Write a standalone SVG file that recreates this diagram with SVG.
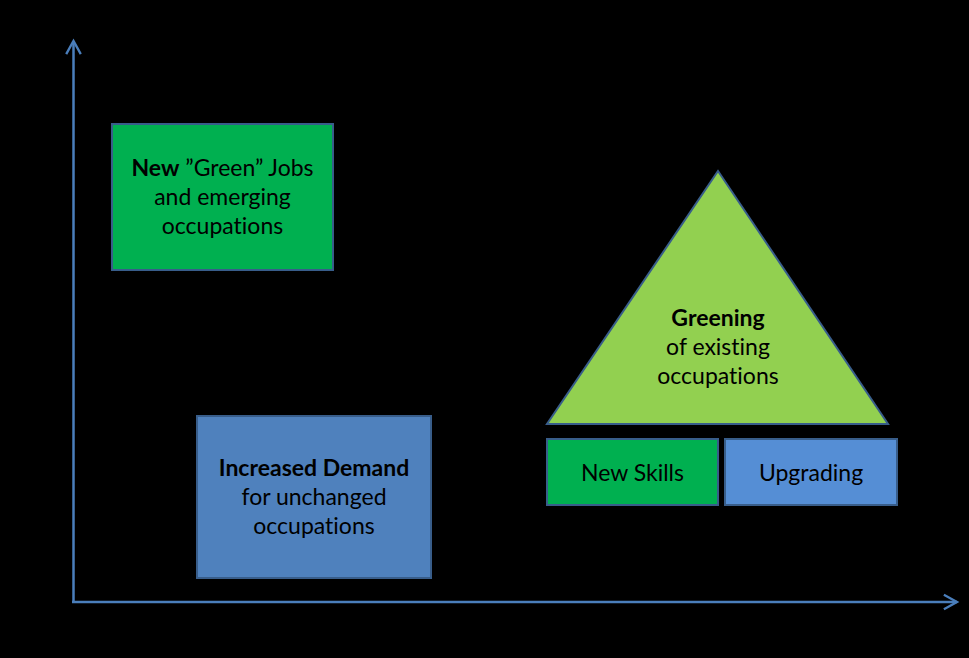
<svg xmlns="http://www.w3.org/2000/svg" width="969" height="658" viewBox="0 0 969 658">
<style>
.t{font-family:Lato,"Open Sans","Liberation Sans",sans-serif;font-size:23px;fill:#000;text-anchor:middle;font-variant-ligatures:none}
.b{font-weight:bold}
.box{stroke:#385d8a;stroke-width:2}
.ax{stroke:#4a7ebb;stroke-width:2.5;fill:none}
</style>
<defs>
<marker id="arr" viewBox="0 0 12 12" refX="10" refY="6" markerWidth="7" markerHeight="7" markerUnits="strokeWidth" orient="auto">
<path d="M1,1 L10,6 L1,11" fill="none" stroke="#4a7ebb" stroke-width="1.6"/>
</marker>
</defs>
<rect width="969" height="658" fill="#000"/>
<g id="connectors">
<line class="ax" x1="73.5" y1="602" x2="73.5" y2="41" marker-end="url(#arr)"/>
<line class="ax" x1="72" y1="602" x2="957" y2="602" marker-end="url(#arr)"/>
</g>
<g id="new-green-jobs">
<rect class="box" x="112" y="124" width="221" height="146" fill="#00b050"/>
<text class="t" x="222.5" y="176"><tspan class="b">New</tspan> ”Green” Jobs</text>
<text class="t" x="222.5" y="205">and emerging</text>
<text class="t" x="222.5" y="234">occupations</text>
</g>
<g id="increased-demand">
<rect class="box" x="197" y="416" width="234" height="162" fill="#4f81bd"/>
<text class="t b" x="314" y="476">Increased Demand</text>
<text class="t" x="314" y="505">for unchanged</text>
<text class="t" x="314" y="534">occupations</text>
</g>
<g id="greening">
<polygon class="box" points="718,171 888,424 547,424" fill="#92d050"/>
<text class="t b" x="718" y="326">Greening</text>
<text class="t" x="718" y="355">of existing</text>
<text class="t" x="718" y="384">occupations</text>
</g>
<g id="new-skills">
<rect class="box" x="547" y="439" width="171" height="66" fill="#00b050"/>
<text class="t" x="632.5" y="481">New Skills</text>
</g>
<g id="upgrading">
<rect class="box" x="725" y="439" width="172" height="66" fill="#558ed5"/>
<text class="t" x="811" y="481">Upgrading</text>
</g>
</svg>
